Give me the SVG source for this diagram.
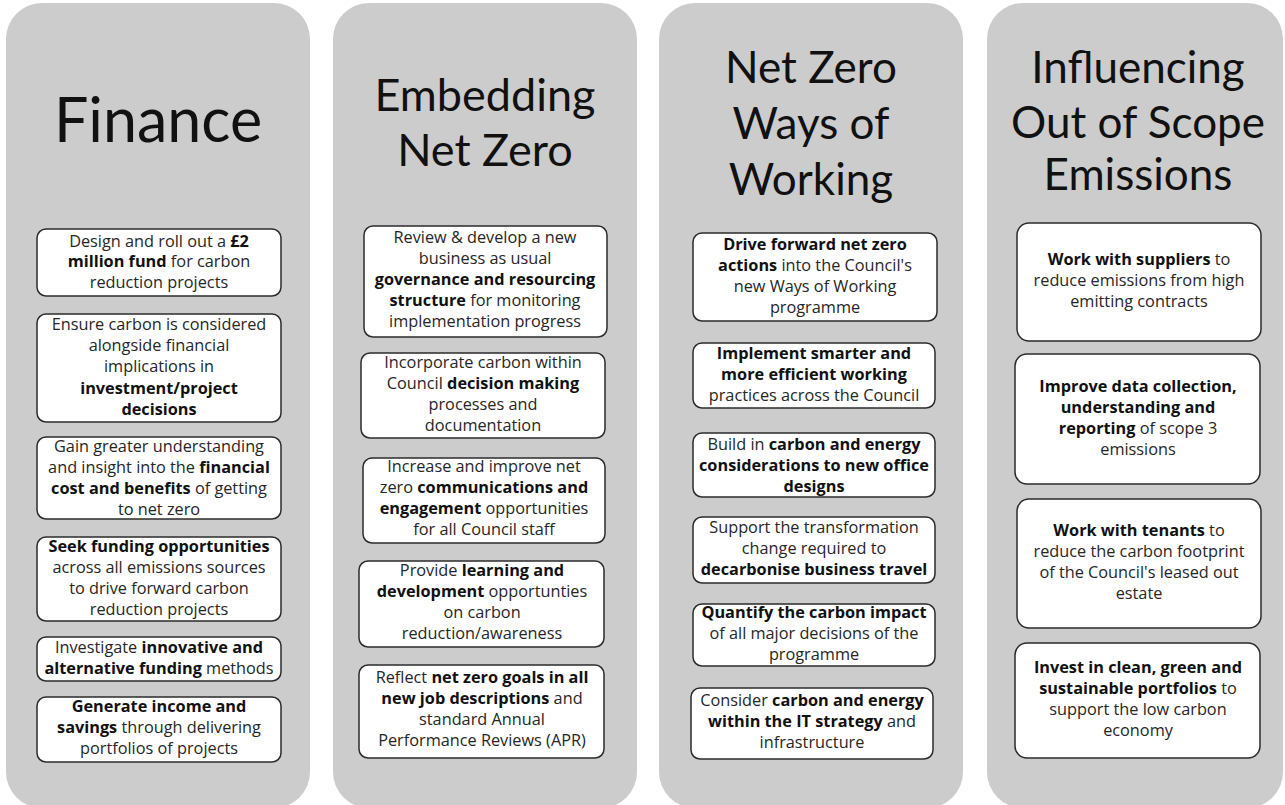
<svg xmlns="http://www.w3.org/2000/svg" width="1285" height="805" viewBox="0 0 1285 805">
<style>
.panel{fill:#cccccc}
.box{fill:#ffffff;stroke:#2b2b2b;stroke-width:1.5}
.t{font-family:"Open Sans",Lato,sans-serif;font-size:16.3px;fill:#262626;text-anchor:middle}
.b{font-weight:bold;fill:#111}
.h{font-family:Lato,"Open Sans",sans-serif;fill:#111;text-anchor:middle}
</style>
<rect x="0" y="0" width="1285" height="805" fill="#ffffff"/>
<g id="col-finance">
<rect class="panel" x="6" y="3" width="304" height="805" rx="36"/>
<text class="h" x="158" y="142" font-size="61">Finance</text>
</g>
<g id="col-embedding">
<rect class="panel" x="333" y="3" width="304" height="805" rx="36"/>
<text class="h" x="485" y="111" font-size="45">Embedding</text>
<text class="h" x="485" y="166" font-size="45">Net Zero</text>
</g>
<g id="col-ways">
<rect class="panel" x="659" y="3" width="304" height="805" rx="36"/>
<text class="h" x="811" y="83" font-size="44">Net Zero</text>
<text class="h" x="811" y="139" font-size="44">Ways of</text>
<text class="h" x="811" y="195" font-size="44">Working</text>
</g>
<g id="col-influencing">
<rect class="panel" x="987" y="3" width="296" height="805" rx="36"/>
<text class="h" x="1138" y="83" font-size="44">Influencing</text>
<text class="h" x="1138" y="138" font-size="44">Out of Scope</text>
<text class="h" x="1138" y="190" font-size="44">Emissions</text>
</g>

<g id="f1"><rect class="box" x="37" y="229" width="244" height="67" rx="9"/>
<text class="t" x="159" y="247">Design and roll out a <tspan class="b">£2</tspan></text>
<text class="t" x="159" y="267"><tspan class="b">million fund</tspan> for carbon</text>
<text class="t" x="159" y="288">reduction projects</text></g>
<g id="f2"><rect class="box" x="37" y="314" width="244" height="108" rx="9"/>
<text class="t" x="159" y="330">Ensure carbon is considered</text>
<text class="t" x="159" y="351">alongside financial</text>
<text class="t" x="159" y="372">implications in</text>
<text class="t" x="159" y="394"><tspan class="b">investment/project</tspan></text>
<text class="t" x="159" y="415"><tspan class="b">decisions</tspan></text></g>
<g id="f3"><rect class="box" x="37" y="437" width="244" height="82" rx="9"/>
<text class="t" x="159" y="452">Gain greater understanding</text>
<text class="t" x="159" y="473">and insight into the <tspan class="b">financial</tspan></text>
<text class="t" x="159" y="494"><tspan class="b">cost and benefits</tspan> of getting</text>
<text class="t" x="159" y="515">to net zero</text></g>
<g id="f4"><rect class="box" x="37" y="537" width="244" height="84" rx="9"/>
<text class="t" x="159" y="552"><tspan class="b">Seek funding opportunities</tspan></text>
<text class="t" x="159" y="573">across all emissions sources</text>
<text class="t" x="159" y="594">to drive forward carbon</text>
<text class="t" x="159" y="615">reduction projects</text></g>
<g id="f5"><rect class="box" x="37" y="637" width="244" height="44" rx="9"/>
<text class="t" x="159" y="653">Investigate <tspan class="b">innovative and</tspan></text>
<text class="t" x="159" y="674"><tspan class="b">alternative funding</tspan> methods</text></g>
<g id="f6"><rect class="box" x="37" y="697" width="244" height="65" rx="9"/>
<text class="t" x="159" y="712"><tspan class="b">Generate income and</tspan></text>
<text class="t" x="159" y="733"><tspan class="b">savings</tspan> through delivering</text>
<text class="t" x="159" y="754">portfolios of projects</text></g>

<g id="e1"><rect class="box" x="364" y="226" width="243" height="111" rx="9"/>
<text class="t" x="485" y="243">Review &amp; develop a new</text>
<text class="t" x="485" y="264">business as usual</text>
<text class="t" x="485" y="285"><tspan class="b">governance and resourcing</tspan></text>
<text class="t" x="485" y="306"><tspan class="b">structure</tspan> for monitoring</text>
<text class="t" x="485" y="327">implementation progress</text></g>
<g id="e2"><rect class="box" x="361" y="353" width="244" height="85" rx="9"/>
<text class="t" x="483" y="368">Incorporate carbon within</text>
<text class="t" x="483" y="389">Council <tspan class="b">decision making</tspan></text>
<text class="t" x="483" y="410">processes and</text>
<text class="t" x="483" y="431">documentation</text></g>
<g id="e3"><rect class="box" x="363" y="458" width="242" height="85" rx="9"/>
<text class="t" x="484" y="472">Increase and improve net</text>
<text class="t" x="484" y="493">zero <tspan class="b">communications and</tspan></text>
<text class="t" x="484" y="514"><tspan class="b">engagement</tspan> opportunities</text>
<text class="t" x="484" y="535">for all Council staff</text></g>
<g id="e4"><rect class="box" x="359" y="561" width="245" height="86" rx="9"/>
<text class="t" x="482" y="576">Provide <tspan class="b">learning and</tspan></text>
<text class="t" x="482" y="597"><tspan class="b">development</tspan> opportunties</text>
<text class="t" x="482" y="618">on carbon</text>
<text class="t" x="482" y="639">reduction/awareness</text></g>
<g id="e5"><rect class="box" x="359" y="665" width="245" height="93" rx="9"/>
<text class="t" x="482" y="683">Reflect <tspan class="b">net zero goals in all</tspan></text>
<text class="t" x="482" y="704"><tspan class="b">new job descriptions</tspan> and</text>
<text class="t" x="482" y="725">standard Annual</text>
<text class="t" x="482" y="746">Performance Reviews (APR)</text></g>

<g id="w1"><rect class="box" x="693" y="233" width="244" height="88" rx="9"/>
<text class="t" x="815" y="250"><tspan class="b">Drive forward net zero</tspan></text>
<text class="t" x="815" y="271"><tspan class="b">actions</tspan> into the Council's</text>
<text class="t" x="815" y="292">new Ways of Working</text>
<text class="t" x="815" y="313">programme</text></g>
<g id="w2"><rect class="box" x="693" y="343" width="242" height="65" rx="9"/>
<text class="t" x="814" y="359"><tspan class="b">Implement smarter and</tspan></text>
<text class="t" x="814" y="380"><tspan class="b">more efficient working</tspan></text>
<text class="t" x="814" y="401">practices across the Council</text></g>
<g id="w3"><rect class="box" x="693" y="433" width="242" height="64" rx="9"/>
<text class="t" x="814" y="450">Build in <tspan class="b">carbon and energy</tspan></text>
<text class="t" x="814" y="471"><tspan class="b">considerations to new office</tspan></text>
<text class="t" x="814" y="492"><tspan class="b">designs</tspan></text></g>
<g id="w4"><rect class="box" x="693" y="517" width="242" height="66" rx="9"/>
<text class="t" x="814" y="533">Support the transformation</text>
<text class="t" x="814" y="554">change required to</text>
<text class="t" x="814" y="575"><tspan class="b">decarbonise business travel</tspan></text></g>
<g id="w5"><rect class="box" x="693" y="604" width="242" height="62" rx="9"/>
<text class="t" x="814" y="618"><tspan class="b">Quantify the carbon impact</tspan></text>
<text class="t" x="814" y="639">of all major decisions of the</text>
<text class="t" x="814" y="660">programme</text></g>
<g id="w6"><rect class="box" x="691" y="688" width="242" height="71" rx="9"/>
<text class="t" x="812" y="706">Consider <tspan class="b">carbon and energy</tspan></text>
<text class="t" x="812" y="727"><tspan class="b">within the IT strategy</tspan> and</text>
<text class="t" x="812" y="748">infrastructure</text></g>

<g id="i1"><rect class="box" x="1017" y="223" width="244" height="118" rx="12"/>
<text class="t" x="1139" y="265"><tspan class="b">Work with suppliers</tspan> to</text>
<text class="t" x="1139" y="286">reduce emissions from high</text>
<text class="t" x="1139" y="307">emitting contracts</text></g>
<g id="i2"><rect class="box" x="1015" y="354" width="245" height="130" rx="12"/>
<text class="t" x="1138" y="392"><tspan class="b">Improve data collection,</tspan></text>
<text class="t" x="1138" y="413"><tspan class="b">understanding and</tspan></text>
<text class="t" x="1138" y="434"><tspan class="b">reporting</tspan> of scope 3</text>
<text class="t" x="1138" y="455">emissions</text></g>
<g id="i3"><rect class="box" x="1017" y="499" width="244" height="129" rx="12"/>
<text class="t" x="1139" y="536"><tspan class="b">Work with tenants</tspan> to</text>
<text class="t" x="1139" y="557">reduce the carbon footprint</text>
<text class="t" x="1139" y="578">of the Council's leased out</text>
<text class="t" x="1139" y="599">estate</text></g>
<g id="i4"><rect class="box" x="1015" y="643" width="245" height="115" rx="12"/>
<text class="t" x="1138" y="673"><tspan class="b">Invest in clean, green and</tspan></text>
<text class="t" x="1138" y="694"><tspan class="b">sustainable portfolios</tspan> to</text>
<text class="t" x="1138" y="715">support the low carbon</text>
<text class="t" x="1138" y="736">economy</text></g>
<g id="connectors"></g>
</svg>
